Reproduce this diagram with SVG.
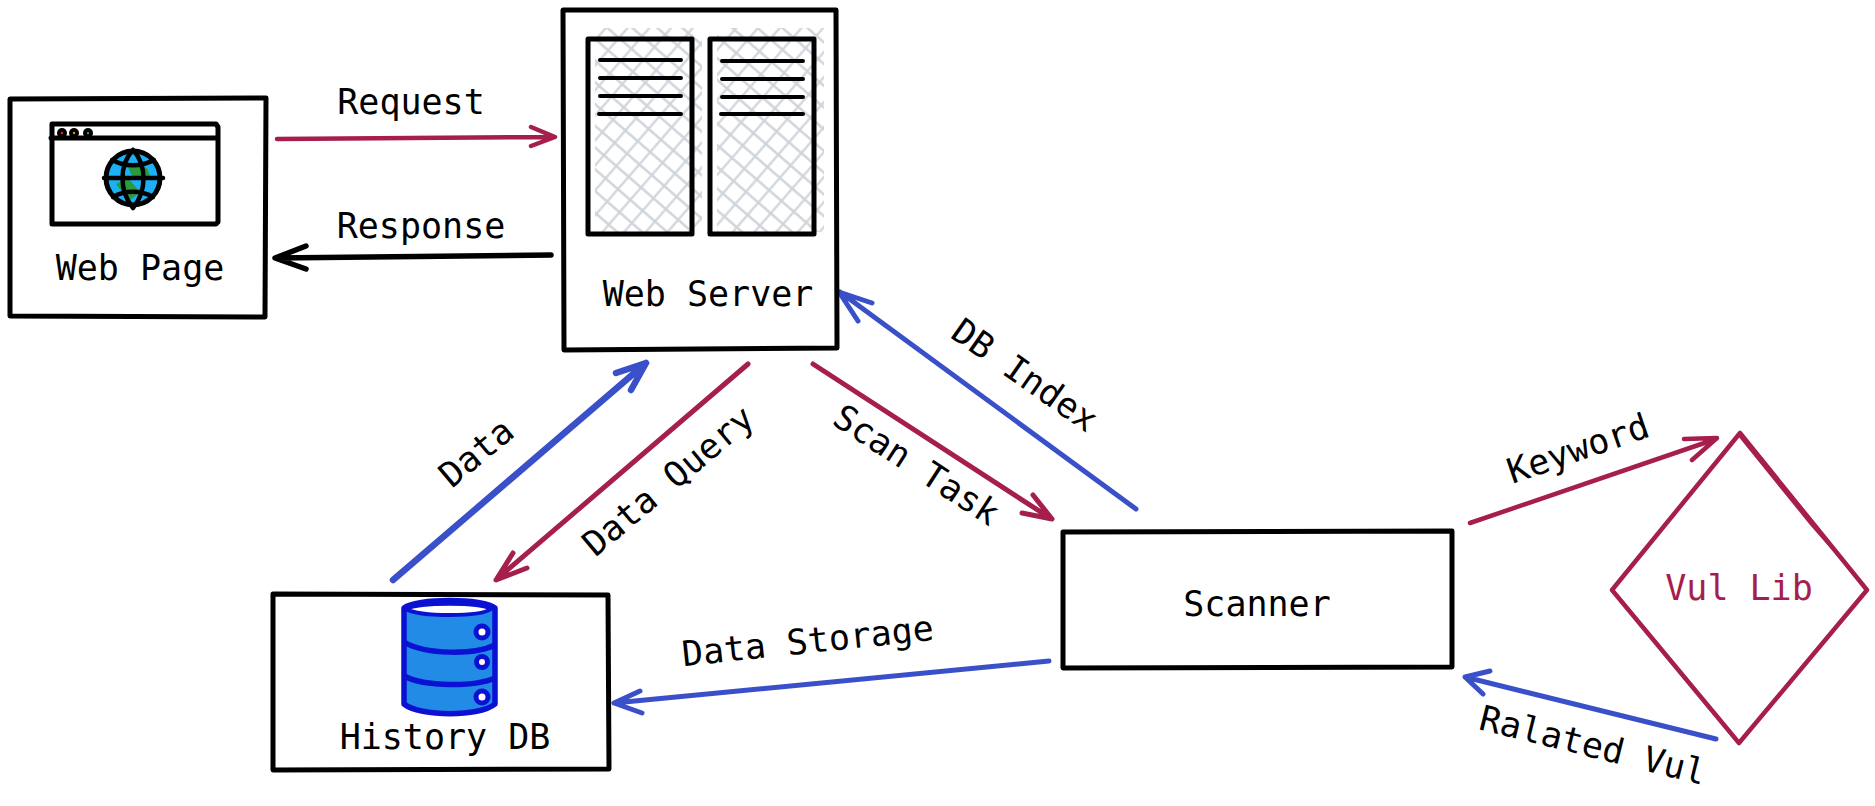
<svg xmlns="http://www.w3.org/2000/svg" width="1875" height="806" viewBox="0 0 1875 806">
<style>
text{font-family:"DejaVu Sans Mono","Liberation Mono",monospace;font-size:35px;fill:#000;text-anchor:middle}
.b{fill:none;stroke:#000;stroke-width:5;stroke-linejoin:round;stroke-linecap:round}
.c{fill:none;stroke-linecap:round;stroke-linejoin:round;stroke-width:4.5}
.r{stroke:#a61e4d}.u{stroke:#3a50c8}.k{stroke:#000}
</style>
<defs>
<pattern id="h" width="16.4" height="16.4" patternUnits="userSpaceOnUse" patternTransform="translate(595 28) rotate(41)">
<path d="M0 8.2H16.4M8.2 0V16.4" stroke="#ced4da" stroke-width="2.2" fill="none"/>
</pattern>
</defs>
<rect width="1875" height="806" fill="#fff"/>
<g id="connectors">
<path class="c r" d="M277 139L554 137M531 127L555 137L531 146"/>
<path class="c k" style="stroke-width:5.5" d="M551 255L276 258M306 246L275 258L306 269"/>
<path class="c u" style="stroke-width:6.5" d="M393 580L646 363M616 373L646 363L631 390"/>
<path class="c r" style="stroke-width:5" d="M748 364L497 579M513 553L496 580L527 568"/>
<path class="c r" style="stroke-width:5" d="M813 364L1050 518M1033 495L1052 519L1022 513"/>
<path class="c u" style="stroke-width:5" d="M1136 509L840 292M872 303L839 292L858 321"/>
<path class="c r" d="M1470 523L1716 439M1684 439L1717 438L1692 460"/>
<path class="c u" style="stroke-width:5" d="M1716 739L1465 677M1490 671L1465 677L1483 694"/>
<path class="c u" style="stroke-width:5" d="M1049 661L614 703M640 691L614 703L642 713"/>
</g>
<g id="web-page">
<path class="b" d="M10 99L266 98L265 317L10 316Z"/>
<path class="b" d="M52 124H216L218 127V222L216 224H52L52 124M51 138H218"/>
<circle cx="62" cy="133" r="5" fill="#000"/><circle cx="74" cy="133" r="5" fill="#000"/><circle cx="88" cy="133" r="5" fill="#000"/>
<circle cx="62" cy="133" r="1.2" fill="#e03131"/><circle cx="74" cy="133" r="1.2" fill="#f08c00"/><circle cx="88" cy="133" r="1.2" fill="#2f9e44"/>
<circle cx="133" cy="178" r="27" fill="#1cb0f6" stroke="#000" stroke-width="5"/>
<path d="M127 165L147 168L151 178L133 178ZM116 184L128 178L140 192L129 201Z" fill="#2b9a3e"/>
<path d="M104 178H163M133 150C119 165 119 191 133 208C147 191 147 165 133 150M112 160C125 167 141 167 154 160M113 197C125 190 141 190 153 197" fill="none" stroke="#000" stroke-width="4.5" stroke-linejoin="round" stroke-linecap="round"/>
<text x="140" y="280">Web Page</text>
</g>
<g id="web-server">
<path class="b" d="M563 10L836 10L837 348L564 350Z"/>
<rect x="595" y="28" width="107" height="204" fill="url(#h)"/>
<rect x="717" y="28" width="107" height="204" fill="url(#h)"/>
<rect class="b" x="588" y="39" width="104" height="195"/>
<rect class="b" x="710" y="39" width="104" height="195"/>
<path class="b" style="stroke-width:4" d="M600 60H681M600 78H681M600 96H681M599 114H681M722 61H803M722 79H803M722 97H803M721 114H803"/>
<text x="708" y="306">Web Server</text>
</g>
<g id="history-db">
<path class="b" d="M273 594L608 595L609 769L273 770Z"/>
<path d="M404 608C415 598 485 598 495 608L495 704C480 717 420 717 404 704Z" fill="#228be6" stroke="#0a11d3" stroke-width="5.5" stroke-linejoin="round"/>
<path d="M406 609C420 602 480 602 491 609C480 617 420 617 406 609Z" fill="#fff" stroke="#0a11d3" stroke-width="4"/>
<path d="M404 642C425 655 475 655 495 645M404 676C425 687 475 687 495 678" fill="none" stroke="#0a11d3" stroke-width="5.5"/>
<circle cx="482" cy="632" r="6" fill="#fff" stroke="#0a11d3" stroke-width="5"/>
<circle cx="482" cy="662" r="5.5" fill="#fff" stroke="#0a11d3" stroke-width="5"/>
<circle cx="482" cy="697" r="6" fill="#fff" stroke="#0a11d3" stroke-width="5"/>
<text x="445" y="749">History DB</text>
</g>
<g id="scanner">
<path class="b" d="M1063 532L1452 531L1452 667L1063 668Z"/>
<text x="1257" y="616">Scanner</text>
</g>
<g id="vul-lib">
<path d="M1740 433L1867 590L1739 743L1612 590Z" fill="none" stroke="#a61e4d" stroke-width="4.5" stroke-linejoin="round"/>
<path d="M1741 432L1866 589L1810 525L1738 436Z" fill="#a61e4d"/>
<text x="1739" y="600" style="fill:#a61e4d">Vul Lib</text>
</g>
<g id="labels">
<text x="411" y="114">Request</text>
<text x="421" y="238">Response</text>
<text transform="translate(484 462) rotate(-40)">Data</text>
<text transform="translate(676 490) rotate(-40)">Data Query</text>
<text transform="translate(910 475) rotate(33)">Scan Task</text>
<text transform="translate(1018 385) rotate(35)">DB Index</text>
<text transform="translate(809 653) rotate(-6)">Data Storage</text>
<text transform="translate(1582 460) rotate(-19)">Keyword</text>
<text transform="translate(1590 757) rotate(14)">Ralated Vul</text>
</g>
</svg>
